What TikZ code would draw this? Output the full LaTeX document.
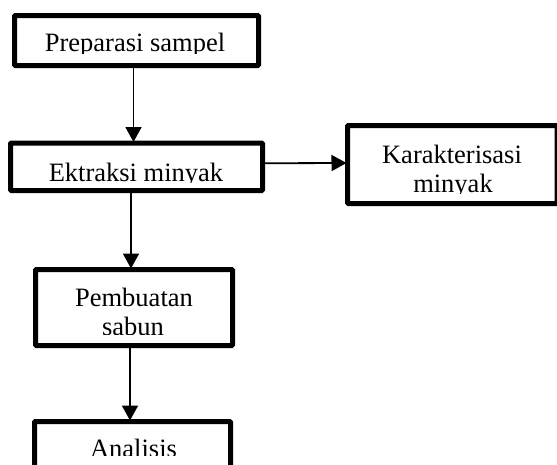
\documentclass[tikz,border=0pt]{standalone}
\usepackage{fontspec}
\setmainfont{Liberation Serif}
\usetikzlibrary{arrows.meta}
\tikzset{
  box/.style={draw, line width=5pt, inner sep=0pt, outer sep=0pt, rounded corners=1pt},
  lbl/.style={anchor=base, inner sep=0pt, outer sep=0pt, font=\fontsize{26.5}{29}\selectfont},
  arr/.style={line width=1.8pt, -{Triangle[length=15pt,width=16pt]}, shorten >=1pt},
}
\begin{document}
\begin{tikzpicture}[x=1pt,y=-1pt]
\clip (0,0) rectangle (557,464);
% boxes
\node[box, minimum width=244pt, minimum height=50pt] (b1) at (136.5,40.5) {};
\node[box, minimum width=252pt, minimum height=47.5pt] (b2) at (136.5,166.75) {};
\node[box, minimum width=209.5pt, minimum height=78pt] (b3) at (452.25,164.5) {};
\node[box, minimum width=197pt, minimum height=76pt] (b4) at (134,307.5) {};
\node[box, minimum width=196pt, minimum height=78.5pt] (b5) at (132.5,460.75) {};
% texts (cut off at their baselines, as printed)
\begin{scope}
  \clip (20,20) rectangle (250,53);
  \node[lbl] (t1) at (135,51.7) {Preparasi sampel};
\end{scope}
\begin{scope}
  \clip (20,147) rectangle (255,182.7);
  \node[lbl] (t2) at (136,181.7) {Ektraksi minyak};
\end{scope}
\begin{scope}
  \clip (352,130) rectangle (552,193);
  \node[lbl] (t3) at (452,163) {Karakterisasi};
  \node[lbl] (t3b) at (453,192) {minyak};
\end{scope}
\begin{scope}
  \clip (40,274) rectangle (228,334.5);
  \node[lbl] (t4) at (134,306) {Pembuatan};
  \node[lbl] (t4b) at (133,335) {sabun};
\end{scope}
\begin{scope}
  \clip (40,426) rectangle (226,455.5);
  \node[lbl] (t5) at (133.5,457) {Analisis};
\end{scope}
% connectors
\draw[arr] ([xshift=-3pt]b1.south) -- ([xshift=-3pt]b2.north);
\draw[arr] ([xshift=-5.5pt]b2.south) -- ([xshift=-3pt]b4.north);
\draw[arr] ([xshift=-4pt]b4.south) -- ([xshift=-2.5pt]b5.north);
\draw[arr] ([yshift=3.5pt]b2.east) -- ([yshift=1.5pt]b3.west);
\end{tikzpicture}
\end{document}
